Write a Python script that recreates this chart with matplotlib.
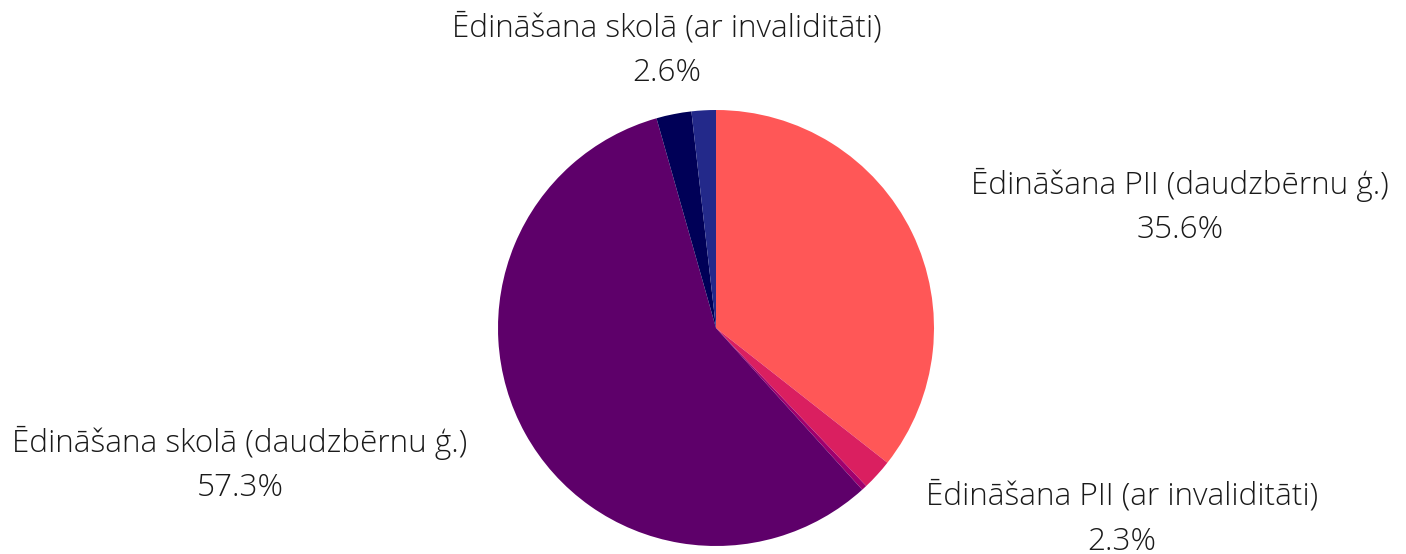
import matplotlib
matplotlib.use("Agg")
import matplotlib.pyplot as plt

labels = ["Ēdināšana PII (daudzbērnu ģ.)", "Ēdināšana PII (ar invaliditāti)", "",
          "Ēdināšana skolā (daudzbērnu ģ.)", "Ēdināšana skolā (ar invaliditāti)", ""]
values = [35.6, 2.3, 0.4, 57.3, 2.6, 1.8]
colors = ["#FF5757", "#DA1F60", "#A0006E", "#5E006A", "#000057", "#23298A"]

# label positions in pixels (centre x, top line y)
label_pos = {0: (1180, 185), 1: (1122, 497), 3: (240, 443), 4: (667, 28)}

W, H = 1406, 554
fig = plt.figure(figsize=(W / 100, H / 100), dpi=100)
cx, cy, r = 716, 328, 218
ax = fig.add_axes([(cx - r) / W, (H - cy - r) / H, 2 * r / W, 2 * r / H])
ax.pie(values, colors=colors, startangle=90, counterclock=False, radius=1,
       wedgeprops=dict(linewidth=0))
ax.set_xlim(-1, 1)
ax.set_ylim(-1, 1)
ax.set_aspect("equal")
ax.axis("off")

font = dict(family="Open Sans", fontweight="light", fontsize=22.7, color="#1a1a1a")
for i, (px, py) in label_pos.items():
    fig.text(px / W, 1 - py / H, labels[i], ha="center", va="center", **font)
    fig.text(px / W, 1 - (py + 45) / H, f"{values[i]}%", ha="center", va="center", **font)

fig.savefig("out.png", dpi=100)
